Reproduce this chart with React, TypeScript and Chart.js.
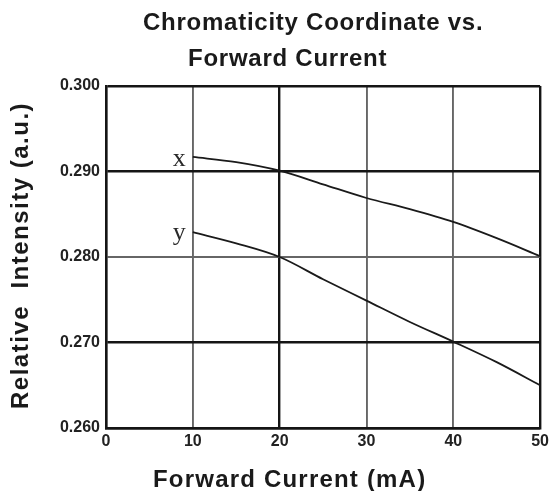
import React, { useEffect, useRef } from "react";
import { Chart, registerables } from "chart.js";

Chart.register(...registerables);

const titleLines = ["Chromaticity Coordinate vs.", "Forward Current"];
const xAxisTitle = "Forward Current (mA)";
const yAxisTitle = "Relative  Intensity (a.u.)";
const currents = [10, 15, 20, 25, 30, 35, 40, 45, 50];
const chromaX = [0.2917, 0.2911, 0.2901, 0.2885, 0.2869, 0.2856, 0.2841, 0.2822, 0.2801];
const chromaY = [0.2829, 0.2816, 0.2800, 0.2774, 0.2749, 0.2724, 0.2701, 0.2677, 0.2650];
const seriesLabels = ["x", "y"];
const xTicks = [0, 10, 20, 30, 40, 50];
const yTicks = [0.26, 0.27, 0.28, 0.29, 0.3];
const thickX = [0, 20, 50];
const thickY = [0.26, 0.27, 0.29, 0.3];

const textPlugin = {
  id: "texts",
  afterDraw(chart: any) {
    const ctx = chart.ctx;
    const sx = chart.scales.x;
    const sy = chart.scales.y;
    ctx.save();
    ctx.fillStyle = "#1a1a1a";
    ctx.textBaseline = "alphabetic";
    ctx.textAlign = "left";
    ctx.font = "bold 24px 'Liberation Sans', Arial, sans-serif";
    (ctx as any).letterSpacing = "0.75px";
    ctx.fillText(titleLines[0], 143, 30);
    ctx.fillText(titleLines[1], 188, 66);
    (ctx as any).letterSpacing = "1.2px";
    ctx.fillText(xAxisTitle, 153, 487);
    ctx.save();
    ctx.translate(28, 409);
    ctx.rotate(-Math.PI / 2);
    (ctx as any).letterSpacing = "1.5px";
    ctx.fillText(yAxisTitle, 0, 0);
    ctx.restore();
    (ctx as any).letterSpacing = "0px";
    ctx.font = "26px 'Liberation Serif', 'Times New Roman', serif";
    ctx.fillStyle = "#2a2a2a";
    ctx.textAlign = "right";
    const px = sx.getPixelForValue(currents[0]);
    ctx.fillText(seriesLabels[0], px - 7, sy.getPixelForValue(chromaX[0]) + 9);
    ctx.fillText(seriesLabels[1], px - 7, sy.getPixelForValue(chromaY[0]) + 8);
    ctx.restore();
  },
};

const near = (arr: number[], v: number) => arr.some((a) => Math.abs(a - v) < 1e-6);

export default function App() {
  const ref = useRef<HTMLCanvasElement>(null);
  useEffect(() => {
    document.body.style.margin = "0";
    const chart = new Chart(ref.current!, {
      type: "line",
      data: {
        datasets: [
          {
            label: seriesLabels[0],
            data: currents.map((c, i) => ({ x: c, y: chromaX[i] })),
            borderColor: "#1a1a1a",
            borderWidth: 1.8,
            pointRadius: 0,
            cubicInterpolationMode: "monotone",
          },
          {
            label: seriesLabels[1],
            data: currents.map((c, i) => ({ x: c, y: chromaY[i] })),
            borderColor: "#1a1a1a",
            borderWidth: 1.8,
            pointRadius: 0,
            cubicInterpolationMode: "monotone",
          },
        ],
      },
      plugins: [textPlugin],
      options: {
        animation: false,
        responsive: false,
        events: [],
        layout: { padding: { top: 86, right: 11, left: 0, bottom: 0 } },
        plugins: { legend: { display: false }, tooltip: { enabled: false }, title: { display: false } },
        scales: {
          x: {
            type: "linear",
            min: xTicks[0],
            max: xTicks[xTicks.length - 1],
            afterFit: (s: any) => {
              s.height = 63;
            },
            afterBuildTicks: (s: any) => {
              s.ticks = xTicks.map((v) => ({ value: v }));
            },
            ticks: {
              padding: 4,
              color: "#222",
              font: { family: "'Liberation Sans', Arial, sans-serif", size: 16, weight: "bold" },
              callback: (v: any) => String(v),
            },
            grid: {
              drawTicks: false,
              color: (c: any) => (near(thickX, c.tick.value) ? "#151515" : "#666666"),
              lineWidth: (c: any) => (near(thickX, c.tick.value) ? 2.4 : 1.9),
            },
            border: { display: true, color: "#151515", width: 2.4 },
          },
          y: {
            type: "linear",
            min: yTicks[0],
            max: yTicks[yTicks.length - 1],
            afterFit: (s: any) => {
              s.width = 106;
            },
            afterBuildTicks: (s: any) => {
              s.ticks = yTicks.map((v) => ({ value: v }));
            },
            ticks: {
              padding: 6,
              color: "#222",
              font: { family: "'Liberation Sans', Arial, sans-serif", size: 16, weight: "bold" },
              callback: (v: any) => Number(v).toFixed(3),
            },
            grid: {
              drawTicks: false,
              color: (c: any) => (near(thickY, c.tick.value) ? "#151515" : "#666666"),
              lineWidth: (c: any) => (near(thickY, c.tick.value) ? 2.4 : 1.9),
            },
            border: { display: true, color: "#151515", width: 2.4 },
          },
        },
      },
    } as any);
    return () => chart.destroy();
  }, []);
  return (
    <div style={{ width: 553, height: 491, background: "#fff" }}>
      <canvas ref={ref} width={553} height={491} style={{ display: "block" }} />
    </div>
  );
}
